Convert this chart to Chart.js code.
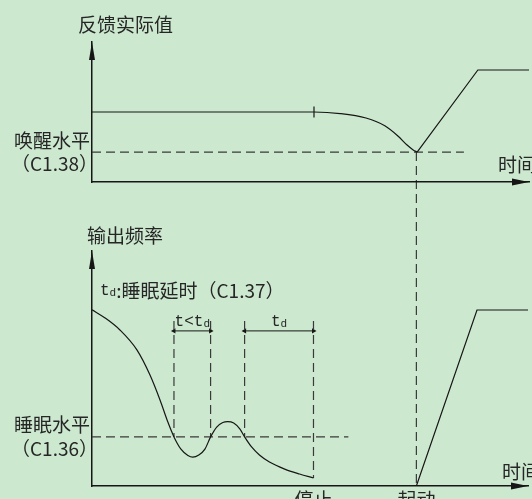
<!DOCTYPE html>
<html>
<head>
<meta charset="utf-8">
<script src="https://cdn.jsdelivr.net/npm/chart.js@4"></script>
<style>
  html, body { margin: 0; padding: 0; background: #cce8cf; }
  #wrap { position: relative; width: 532px; height: 499px; overflow: hidden; }
  #wrap canvas { position: absolute; left: 0; top: 0; }
</style>
</head>
<body>
<div id="wrap">
  <canvas id="freq-chart" width="532" height="499"></canvas>
  <canvas id="feedback-chart" width="532" height="499"></canvas>
</div>
<script>
// time axis is shared by both panels (0 = y axis, 100 = arrow tip)
const timeMin = 0;
const timeMax = 100;
const stopTime = 50.8;
const startTime = 74.4;
const rampEndTime = 88.3;

// upper panel: feedback value
const feedbackTimes = [0, 50.8, 56.8, 62.7, 67.1, 70.0, 72.1, 73.5, 74.4];
const feedbackValues = [50, 50, 48.9, 45.7, 40, 32.9, 26.4, 22.9, 21.4];
const feedbackRiseTimes = [startTime, rampEndTime, timeMax];
const feedbackRiseValues = [21.4, 80, 80];
const wakeLevel = 21.4;
const wakeLineEnd = 85.1;
const holdMarkValues = [46.1, 53.9];

// lower panel: output frequency
const freqTimes = [0, 3.0, 6.4, 10.3, 13.3, 15.6, 17.4, 18.8, 20.4, 22.0, 23.1, 24.5, 25.9, 27.2, 28.6, 30.0, 31.1, 32.5, 33.9, 35.0, 36.6, 38.4, 40.7, 44.2, 47.6, 50.8];
const freqValues = [75.0, 71.5, 66.4, 57.9, 47.2, 36.6, 27.2, 20.9, 15.7, 13.0, 12.3, 13.2, 15.7, 20.9, 25.1, 27.0, 27.4, 26.8, 24.3, 20.9, 16.6, 13.2, 10.2, 7.2, 5.1, 3.4];
const freqRiseTimes = [startTime, rampEndTime, timeMax];
const freqRiseValues = [0, 74.9, 74.9];
const sleepLevel = 20.9;
const sleepLineEnd = 58.8;
const delayMarks = [18.8, 27.2, 35.0, 50.8];
const delayMarkTop = 70.2;
const delayMarkBottoms = [20.9, 20.9, 20.9, 3.4];
const dimLevel = 66;

const lineColor = '#161616';
const dashColor = '#3a3a3a';
const textColor = '#262626';
const cjkFont = '19px "Noto Sans CJK SC"';
const monoFont = '16px "Liberation Mono"';
const subFont = '11px "Liberation Mono"';

const toPoints = (xs, ys) => xs.map((x, i) => ({ x: x, y: ys[i] }));

function solid(data, smooth) {
  return {
    data: data,
    borderColor: lineColor,
    borderWidth: 1.2,
    pointRadius: 0,
    fill: false,
    tension: 0,
    cubicInterpolationMode: smooth ? 'monotone' : 'default',
  };
}

function dashed(data) {
  return {
    data: data,
    borderColor: dashColor,
    borderWidth: 1.2,
    borderDash: [9, 5],
    pointRadius: 0,
    fill: false,
    tension: 0,
  };
}

function dimension(x1, x2) {
  return {
    data: [{ x: x1, y: dimLevel }, { x: x2, y: dimLevel }],
    borderColor: lineColor,
    borderWidth: 1,
    pointStyle: 'triangle',
    pointRadius: 3,
    pointRotation: [-90, 90],
    pointBackgroundColor: lineColor,
    pointBorderWidth: 0,
    fill: false,
    tension: 0,
  };
}

function scalesFor(xHeight) {
  return {
    x: {
      type: 'linear', min: timeMin, max: timeMax,
      grid: { display: false, drawTicks: false },
      ticks: { display: false },
      border: { display: true, color: lineColor, width: 1.5 },
      afterFit: s => { s.height = xHeight; },
    },
    y: {
      type: 'linear', min: 0, max: 100,
      grid: { display: false, drawTicks: false },
      ticks: { display: false },
      border: { display: true, color: lineColor, width: 1.5 },
      afterFit: s => { s.width = 92; },
    },
  };
}

function drawRuns(ctx, runs, x, y, align) {
  let total = 0;
  runs.forEach(r => { ctx.font = r.font; r.w = ctx.measureText(r.text).width; total += r.w; });
  let cx = align === 'center' ? x - total / 2 : align === 'right' ? x - total : x;
  runs.forEach(r => {
    ctx.font = r.font;
    ctx.fillText(r.text, cx, y + (r.dy || 0));
    cx += r.w;
  });
}

// arrow heads on both axes
const axisArrows = {
  id: 'axisArrows',
  afterDraw(chart) {
    const { ctx, chartArea: a } = chart;
    ctx.save();
    ctx.fillStyle = lineColor;
    ctx.beginPath();
    ctx.moveTo(a.left, a.top);
    ctx.lineTo(a.left - 3, a.top + 18);
    ctx.lineTo(a.left + 3, a.top + 18);
    ctx.closePath();
    ctx.fill();
    ctx.beginPath();
    ctx.moveTo(a.right, a.bottom);
    ctx.lineTo(a.right - 17, a.bottom - 3.5);
    ctx.lineTo(a.right - 17, a.bottom + 3.5);
    ctx.closePath();
    ctx.fill();
    ctx.restore();
  }
};

const feedbackText = {
  id: 'feedbackText',
  afterDraw(chart) {
    const { ctx, chartArea: a, scales } = chart;
    const wy = scales.y.getPixelForValue(wakeLevel);
    ctx.save();
    ctx.fillStyle = textColor;
    ctx.textBaseline = 'middle';
    ctx.textAlign = 'left';
    drawRuns(ctx, [{ text: '反馈实际值', font: cjkFont }], a.left - 14, a.top - 17, 'left');
    drawRuns(ctx, [{ text: '唤醒水平', font: cjkFont }], a.left - 2, wy - 11, 'right');
    drawRuns(ctx, [{ text: '（C1.38）', font: cjkFont }], a.left + 6, wy + 12, 'right');
    drawRuns(ctx, [{ text: '时间', font: cjkFont }], a.right - 31, a.bottom - 17, 'left');
    ctx.restore();
  }
};

const feedbackChart = new Chart(document.getElementById('feedback-chart'), {
  type: 'line',
  data: {
    datasets: [
      solid(toPoints(feedbackTimes, feedbackValues), true),
      solid(toPoints(feedbackRiseTimes, feedbackRiseValues), false),
      dashed([{ x: timeMin, y: wakeLevel }, { x: wakeLineEnd, y: wakeLevel }]),
      solid([{ x: stopTime, y: holdMarkValues[0] }, { x: stopTime, y: holdMarkValues[1] }], false),
    ],
  },
  options: {
    responsive: false,
    animation: false,
    events: [],
    layout: { padding: { top: 42, right: 3, left: 0, bottom: 0 } },
    scales: scalesFor(499 - 182),
    plugins: { legend: { display: false }, tooltip: { enabled: false } },
  },
  plugins: [axisArrows, feedbackText],
});

const freqText = {
  id: 'freqText',
  afterDraw(chart) {
    const { ctx, chartArea: a, scales } = chart;
    const sy = scales.y.getPixelForValue(sleepLevel);
    const dy = scales.y.getPixelForValue(dimLevel);
    const xs = delayMarks.map(t => scales.x.getPixelForValue(t));
    ctx.save();
    ctx.fillStyle = textColor;
    ctx.textBaseline = 'middle';
    ctx.textAlign = 'left';
    drawRuns(ctx, [{ text: '输出频率', font: cjkFont }], a.left - 5, a.top - 15, 'left');
    drawRuns(ctx, [
      { text: 't', font: monoFont },
      { text: 'd', font: subFont, dy: 2 },
      { text: ':睡眠延时（C1.37）', font: cjkFont },
    ], a.left + 8, 291, 'left');
    drawRuns(ctx, [{ text: 't<t', font: monoFont }, { text: 'd', font: subFont, dy: 2 }], (xs[0] + xs[1]) / 2, dy - 9, 'center');
    drawRuns(ctx, [{ text: 't', font: monoFont }, { text: 'd', font: subFont, dy: 2 }], (xs[2] + xs[3]) / 2, dy - 9, 'center');
    drawRuns(ctx, [{ text: '睡眠水平', font: cjkFont }], a.left - 2, sy - 12, 'right');
    drawRuns(ctx, [{ text: '（C1.36）', font: cjkFont }], a.left + 6, sy + 11.5, 'right');
    drawRuns(ctx, [{ text: '时间', font: cjkFont }], a.right - 26, a.bottom - 14.5, 'left');
    drawRuns(ctx, [{ text: '停止', font: cjkFont }], scales.x.getPixelForValue(stopTime), a.bottom + 14, 'center');
    drawRuns(ctx, [{ text: '起动', font: cjkFont }], scales.x.getPixelForValue(startTime), a.bottom + 14, 'center');
    ctx.restore();
  }
};

// dashed link from the wake point in the upper panel down to the restart point
const wakeLink = {
  id: 'wakeLink',
  afterDatasetsDraw(chart) {
    const { ctx, scales } = chart;
    const x = scales.x.getPixelForValue(startTime);
    const y1 = feedbackChart.scales.y.getPixelForValue(wakeLevel);
    const y2 = scales.y.getPixelForValue(0);
    ctx.save();
    ctx.strokeStyle = dashColor;
    ctx.lineWidth = 1.2;
    ctx.setLineDash([9, 5]);
    ctx.beginPath();
    ctx.moveTo(x, y1);
    ctx.lineTo(x, y2);
    ctx.stroke();
    ctx.restore();
  }
};

const freqDatasets = [
  solid(toPoints(freqTimes, freqValues), true),
  solid(toPoints(freqRiseTimes, freqRiseValues), false),
  dashed([{ x: timeMin, y: sleepLevel }, { x: sleepLineEnd, y: sleepLevel }]),
];
delayMarks.forEach((t, i) => {
  freqDatasets.push(dashed([{ x: t, y: delayMarkTop }, { x: t, y: delayMarkBottoms[i] }]));
});
freqDatasets.push(dimension(delayMarks[0], delayMarks[1]));
freqDatasets.push(dimension(delayMarks[2], delayMarks[3]));

new Chart(document.getElementById('freq-chart'), {
  type: 'line',
  data: { datasets: freqDatasets },
  options: {
    responsive: false,
    animation: false,
    events: [],
    layout: { padding: { top: 251, right: 3, left: 0, bottom: 0 } },
    scales: scalesFor(499 - 486),
    plugins: { legend: { display: false }, tooltip: { enabled: false } },
  },
  plugins: [axisArrows, wakeLink, freqText],
});
</script>
</body>
</html>
